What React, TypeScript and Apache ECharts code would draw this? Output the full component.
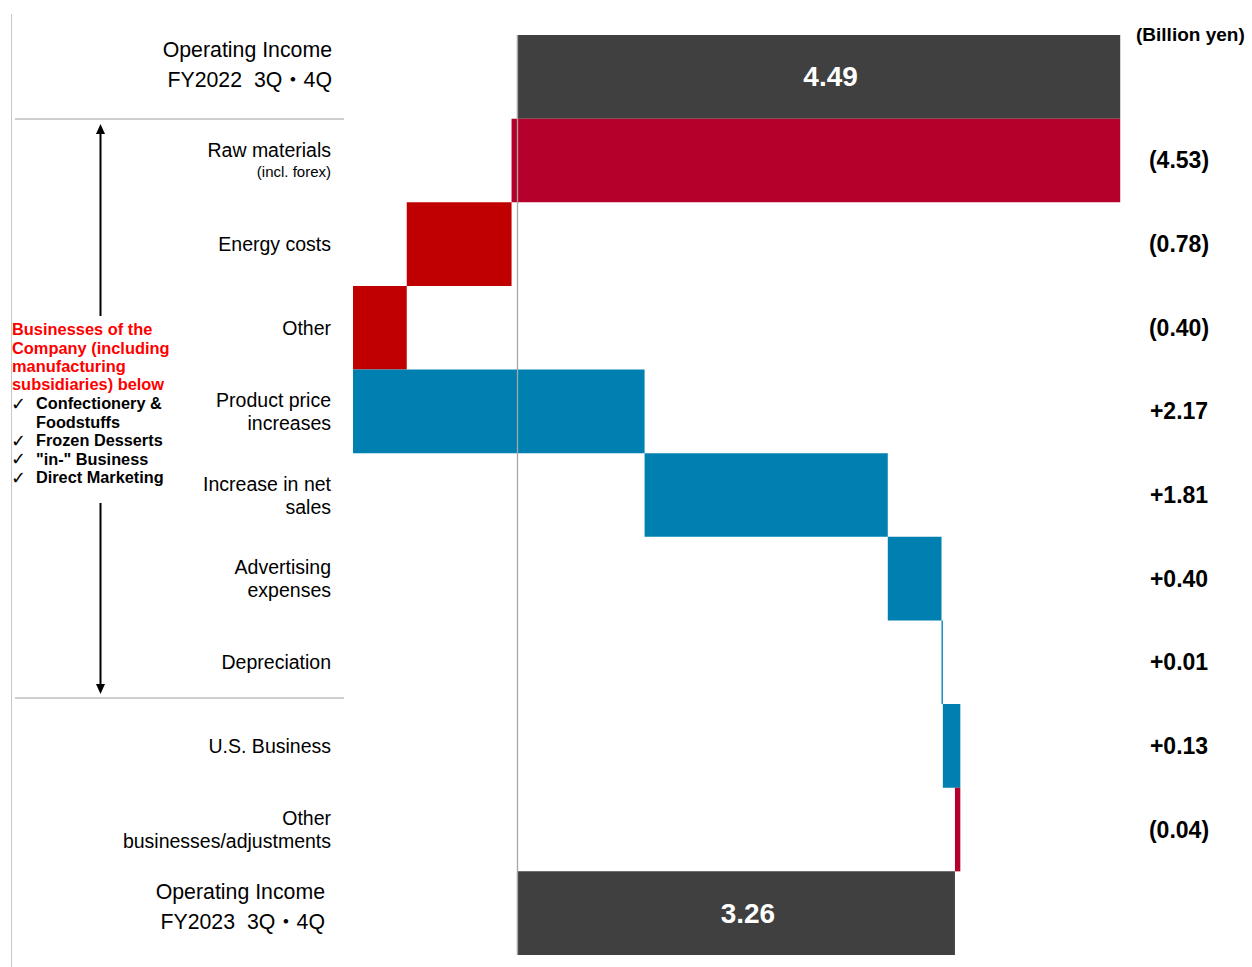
import React, { useEffect, useRef } from "react";
import * as echarts from "echarts";

const categories = [
  "Operating Income\nFY2022  3Q・4Q",
  "Raw materials\n(incl. forex)",
  "Energy costs",
  "Other",
  "Product price\nincreases",
  "Increase in net\nsales",
  "Advertising\nexpenses",
  "Depreciation",
  "U.S. Business",
  "Other\nbusinesses/adjustments",
  "Operating Income\nFY2023  3Q・4Q",
];
const startTotal = 4.49;
const endTotal = 3.26;
const deltas = [-4.53, -0.78, -0.4, 2.17, 1.81, 0.4, 0.01, 0.13, -0.04];
const unitLabel = "(Billion yen)";
const noteTitle = "Businesses of the\nCompany (including\nmanufacturing\nsubsidiaries) below";
const noteItems = ["Confectionery &\nFoodstuffs", "Frozen Desserts", "\"in-\" Business", "Direct Marketing"];

const barColors = [
  "#404040", "#B5002B", "#C00000", "#C00000", "#0080B0", "#0080B0",
  "#0080B0", "#0080B0", "#0080B0", "#B5002B", "#404040",
];
const FONT = "'Liberation Sans', Arial, 'Noto Sans CJK JP', sans-serif";

function buildRows() {
  const rows: number[][] = [[0, 0, startTotal]];
  let cur = startTotal;
  deltas.forEach((d, i) => {
    const next = Math.round((cur + d) * 100) / 100;
    rows.push([i + 1, cur, next]);
    cur = next;
  });
  rows.push([categories.length - 1, 0, endTotal]);
  return rows;
}
const fmtDelta = (v: number) => (v < 0 ? `(${Math.abs(v).toFixed(2)})` : `+${v.toFixed(2)}`);
const rightLabels = ["", ...deltas.map(fmtDelta), ""];

export default function App() {
  const ref = useRef<HTMLDivElement>(null);
  useEffect(() => {
    if (!ref.current) return;
    const chart = echarts.init(ref.current, null, { renderer: "svg" });
    const rows = buildRows();
    const last = categories.length - 1;
    const noteLines = noteItems.join("\n");
    const checks = noteItems.map((t) => "✓" + "\n".repeat(t.split("\n").length - 1)).join("\n");
    chart.setOption({
      animation: false,
      grid: { left: 351, right: 117, top: 35, bottom: 12 },
      xAxis: { type: "value", min: -1.235, max: 4.6, show: false },
      yAxis: [
        {
          type: "category",
          data: categories,
          inverse: true,
          position: "left",
          axisLine: { show: false },
          axisTick: { show: false },
          splitLine: { show: false },
          axisLabel: {
            interval: 0,
            margin: 20,
            fontFamily: FONT,
            color: "#000",
            formatter: (value: string, index: number) => {
              const lines = value.split("\n");
              if (index === 0) return lines.map((l) => `{big|${l}}`).join("\n") + "\n{gap| }";
              if (index === last) return lines.map((l) => `{big2|${l}}`).join("\n") + "\n{gap2| }";
              if (index === 1) return `{a|${lines[0]}}\n{s|${lines[1]}}`;
              return lines.map((l) => `{a|${l}}`).join("\n");
            },
            rich: {
              a: { fontSize: 19.5, lineHeight: 23, fontFamily: FONT, color: "#000" },
              s: { fontSize: 15, lineHeight: 21, fontFamily: FONT, color: "#000" },
              big: { fontSize: 21.3, lineHeight: 30, fontFamily: FONT, color: "#000", padding: [0, -1, 0, 0] },
              big2: { fontSize: 21.3, lineHeight: 30, fontFamily: FONT, color: "#000", padding: [0, 6, 0, 0] },
              gap: { fontSize: 8, lineHeight: 24 },
              gap2: { fontSize: 8, lineHeight: 12 },
            },
          },
        },
        {
          type: "category",
          data: rightLabels,
          inverse: true,
          position: "right",
          axisLine: { show: false },
          axisTick: { show: false },
          splitLine: { show: false },
          axisLabel: {
            interval: 0,
            margin: 44,
            align: "center",
            fontFamily: FONT,
            fontSize: 23,
            fontWeight: "bold",
            color: "#000",
          },
        },
      ],
      series: [
        {
          type: "custom",
          z: 2,
          yAxisIndex: 0,
          encode: { x: [1, 2], y: 0 },
          data: rows,
          renderItem: (params: any, api: any) => {
            const idx = params.dataIndex;
            const cat = api.value(0);
            const s = api.value(1);
            const e = api.value(2);
            const a = api.coord([s, cat]);
            const b = api.coord([e, cat]);
            const h = api.size([0, 1])[1];
            const x = Math.min(a[0], b[0]);
            const w = Math.max(Math.abs(b[0] - a[0]), 1.2);
            const rect = {
              type: "rect",
              shape: { x, y: a[1] - h / 2, width: w, height: h },
              style: { fill: barColors[idx] },
            };
            if (idx === 0 || idx === rows.length - 1) {
              return {
                type: "group",
                children: [
                  rect,
                  {
                    type: "text",
                    x: x + w / 2 + 12,
                    y: a[1],
                    style: {
                      text: e.toFixed(2),
                      fill: "#fff",
                      fontSize: 28,
                      fontWeight: "bold",
                      fontFamily: FONT,
                      align: "center",
                      verticalAlign: "middle",
                    },
                  },
                ],
              };
            }
            return rect;
          },
        },
        {
          type: "line",
          data: [],
          z: 5,
          markLine: {
            silent: true,
            symbol: "none",
            label: { show: false },
            lineStyle: { color: "#a6a6a6", width: 1.3, type: "solid" },
            data: [{ xAxis: 0 }],
          },
        },
      ],
      graphic: [
        { type: "line", shape: { x1: 11.5, y1: 14, x2: 11.5, y2: 967 }, style: { stroke: "#c8c8c8", lineWidth: 1 } },
        { type: "line", shape: { x1: 15, y1: 119, x2: 344, y2: 119 }, style: { stroke: "#bfbfbf", lineWidth: 1.3 } },
        { type: "line", shape: { x1: 15, y1: 698, x2: 344, y2: 698 }, style: { stroke: "#bfbfbf", lineWidth: 1.3 } },
        { type: "line", shape: { x1: 100.5, y1: 132, x2: 100.5, y2: 316 }, style: { stroke: "#000", lineWidth: 2 } },
        { type: "polygon", shape: { points: [[100.5, 124], [96, 134], [105, 134]] }, style: { fill: "#000" } },
        { type: "line", shape: { x1: 100.5, y1: 503, x2: 100.5, y2: 686 }, style: { stroke: "#000", lineWidth: 2 } },
        { type: "polygon", shape: { points: [[100.5, 694], [96, 684], [105, 684]] }, style: { fill: "#000" } },
        {
          type: "text",
          x: 1136,
          y: 34,
          style: { text: unitLabel, fontSize: 19, fontWeight: "bold", fontFamily: FONT, fill: "#000", align: "left", verticalAlign: "middle" },
        },
        {
          type: "text",
          x: 12,
          y: 320,
          style: { text: noteTitle, fontSize: 16.4, lineHeight: 18.4, fontWeight: "bold", fontFamily: FONT, fill: "#ff0000", align: "left", verticalAlign: "top" },
        },
        {
          type: "text",
          x: 11,
          y: 394,
          style: { text: checks, fontSize: 18, lineHeight: 18.5, fontFamily: "'DejaVu Sans', sans-serif", fill: "#000", align: "left", verticalAlign: "top" },
        },
        {
          type: "text",
          x: 36,
          y: 394,
          style: { text: noteLines, fontSize: 16.3, lineHeight: 18.5, fontWeight: "bold", fontFamily: FONT, fill: "#000", align: "left", verticalAlign: "top" },
        },
      ],
    });
    return () => chart.dispose();
  }, []);
  return <div ref={ref} style={{ position: "fixed", left: 0, top: 0, width: 1252, height: 967, background: "#fff" }} />;
}
